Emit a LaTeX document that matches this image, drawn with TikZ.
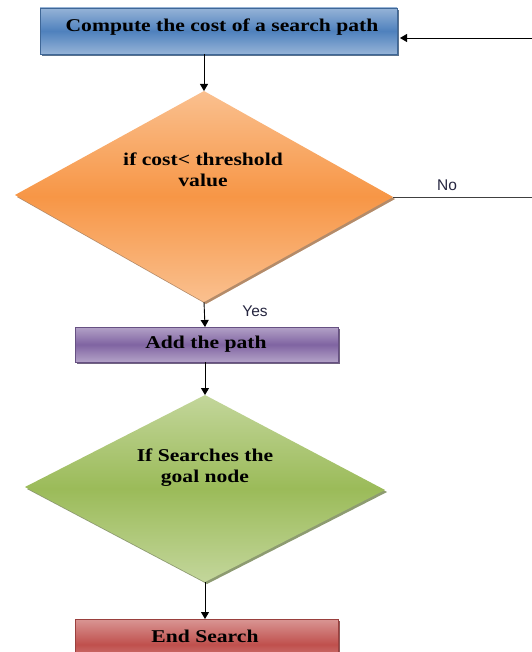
\documentclass[tikz,border=0pt]{standalone}
\usepackage{graphicx}
\usepackage{fontspec}
\setmainfont{Liberation Serif}
\newfontfamily\lblfont{Liberation Sans}
\usetikzlibrary{shadows,arrows.meta}
\definecolor{bluedark}{HTML}{4F81BD}
\definecolor{bluelight}{HTML}{95B3D7}
\definecolor{orgdark}{HTML}{F79646}
\definecolor{orglight}{HTML}{FAC08F}
\definecolor{purdark}{HTML}{8064A2}
\definecolor{purlight}{HTML}{B3A2C7}
\definecolor{grndark}{HTML}{9BBB59}
\definecolor{grnlight}{HTML}{C3D69B}
\definecolor{reddark}{HTML}{C0504D}
\definecolor{redlight}{HTML}{D99694}
\definecolor{lbltext}{HTML}{262640}
\newcommand\wtx[1]{\scalebox{1.2}[1]{#1}}
\tikzset{
  procbox/.style={draw=#1dark!80!black, line width=0.4pt, top color=#1light, bottom color=#1light, middle color=#1dark,
     drop shadow={shadow xshift=2pt, shadow yshift=-2pt, fill=#1dark!60!black, opacity=0.8}},
  decision/.style={top color=#1light, bottom color=#1light, middle color=#1dark,
     drop shadow={shadow xshift=2pt, shadow yshift=-2pt, fill=#1dark!60!black, opacity=0.7}},
  btext/.style={font=\fontsize{18}{21}\selectfont\bfseries, text=black, align=center},
  lbl/.style={font=\lblfont\fontsize{15.5}{18}\selectfont, text=lbltext},
  conn/.style={line width=0.9pt, -{Triangle[length=7pt,width=8pt]}},
  plain/.style={line width=0.7pt, draw=black!75}
}
\begin{document}
\begin{tikzpicture}[x=1pt,y=-1pt]
\useasboundingbox (0,0) rectangle (531,652);
% boxes
\path[procbox=blue] (40,8) rectangle (397,54);
\node[btext] (compute) at (222,27) {\wtx{Compute the cost of a search path}};
\coordinate (computeS) at (204,54);
\coordinate (computeE) at (400,38);
% orange diamond
\path[decision=org] (204,91) -- (393,197) -- (204,302) -- (15,195) -- cycle;
\coordinate (d1N) at (204,91);
\coordinate (d1E) at (393,197);
\coordinate (d1S) at (204,302);
\node[btext] (d1text) at (203,170) {\wtx{if cost\textless{} threshold}\\\wtx{value}};
% purple box
\path[procbox=pur] (75,327) rectangle (338,362);
\node[btext] (add) at (206,344) {\wtx{Add the path}};
\coordinate (addN) at (205,327);
\coordinate (addS) at (205,362);
% green diamond
\path[decision=grn] (205,395) -- (385,490) -- (205,582) -- (25,487) -- cycle;
\coordinate (d2N) at (205,395);
\coordinate (d2S) at (205,582);
\node[btext] (d2text) at (205,468) {\wtx{If Searches the}\\\wtx{goal node}};
% red box
\path[procbox=red] (75,619) rectangle (338,670);
\node[btext] (endS) at (205,636) {\wtx{End Search}};
\coordinate (endN) at (205,619);
% connectors
\draw[conn] (computeS) -- (d1N);
\draw[conn] (d1S) -- (addN);
\draw[conn] (addS) -- (d2N);
\draw[conn] (d2S) -- (endN);
\coordinate (farR) at (533,197);
\coordinate (farTop) at (533,38);
\draw[plain] (d1E) -- (farR) -- (farTop);
\draw[conn] (farTop) -- (computeE);
\node[lbl] (no) at (447,185) {No};
\node[lbl] (yes) at (255,311) {Yes};
\end{tikzpicture}
\end{document}
